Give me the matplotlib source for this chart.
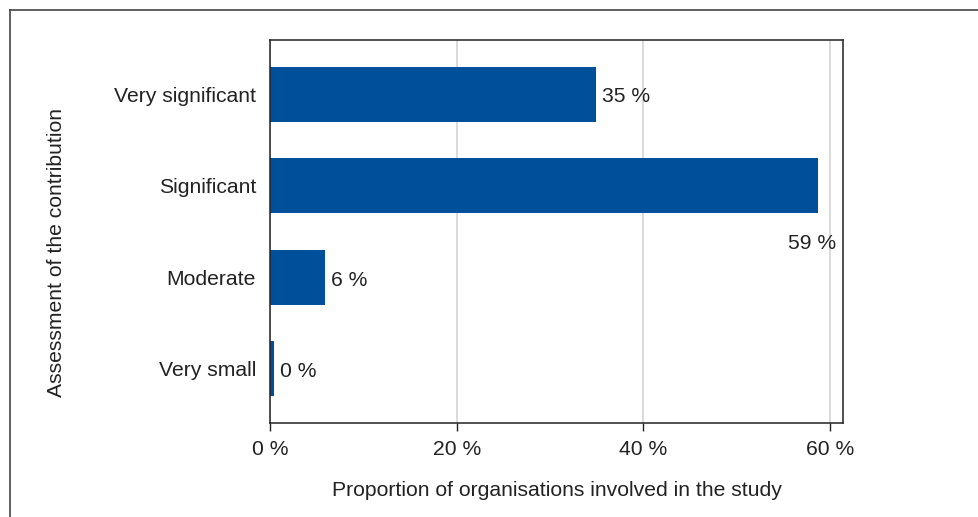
import matplotlib.pyplot as plt
from matplotlib.lines import Line2D

# contribution assessment data
categories = ["Very significant", "Significant", "Moderate", "Very small"]
shares = [34.9, 58.7, 5.9, 0.45]
labels = ["35 %", "59 %", "6 %", "0 %"]

plt.rcParams['font.family'] = ['Liberation Sans', 'DejaVu Sans']
text_col = "#222222"
fs = 15.2

fig = plt.figure(figsize=(9.79, 5.17), dpi=100)
ax = fig.add_axes([270 / 979, 1 - 423 / 517, 573 / 979, 383 / 517])

ypos = list(range(len(categories)))
ax.barh(ypos, shares, height=0.6, color="#004f9a", zorder=2)

for y, v, lab in zip(ypos, shares, labels):
    if v > 50:
        # long bar: label sits under the bar end
        ax.text(v + 1.95, y + 0.63, lab, ha="right", va="center",
                fontsize=fs, color=text_col)
    else:
        ax.text(v + 0.65, y + 0.03, lab, ha="left", va="center",
                fontsize=fs, color=text_col)

ax.set_yticks(ypos)
ax.set_yticklabels(categories, fontsize=fs, color=text_col)
ax.set_ylim(3.59, -0.59)
ax.set_xlim(0, 61.4)
ax.set_xticks([0, 20, 40, 60])
ax.set_xticklabels(["0 %", "20 %", "40 %", "60 %"], fontsize=fs, color=text_col)
ax.tick_params(axis="y", length=0, pad=10)
ax.tick_params(axis="x", length=6, width=1, color="#222222", pad=6)
ax.grid(axis="x", color="#d4d4d4", linewidth=1.2, zorder=0)
ax.set_axisbelow(True)
for s in ax.spines.values():
    s.set_color("#222222")
    s.set_linewidth(1.1)

ax.set_xlabel("Proportion of organisations involved in the study",
              fontsize=fs, color=text_col, labelpad=16)
fig.text(57 / 979, 1 - 253 / 517, "Assessment of the contribution",
         rotation=90, ha="center", va="center", fontsize=fs, color=text_col)

# outer frame lines along the top and left
fig.add_artist(Line2D([10 / 979, 1], [1 - 10 / 517] * 2,
                      transform=fig.transFigure, color="#444444", lw=1.2))
fig.add_artist(Line2D([10 / 979] * 2, [0, 1 - 10 / 517],
                      transform=fig.transFigure, color="#444444", lw=1.2))

fig.savefig("out.png", dpi=100)
